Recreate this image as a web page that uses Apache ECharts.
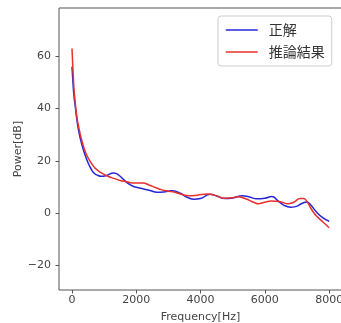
<!DOCTYPE html>
<html>
<head>
<meta charset="utf-8">
<script src="https://cdn.jsdelivr.net/npm/echarts@6/dist/echarts.min.js"></script>
<style>
  html, body { margin: 0; padding: 0; background: #fff; }
  #chart { width: 341px; height: 323px; }
</style>
</head>
<body>
<div id="chart"></div>
<script>
// ground truth spectrum (正解)
const trueFreq = [0, 30, 60, 100, 150, 200, 300, 400, 500, 600, 700, 800, 900, 1050, 1300, 1450, 1700, 1900, 2100, 2400, 2650, 2850, 3100, 3350, 3600, 3800, 4000, 4300, 4500, 4760, 5000, 5300, 5500, 5750, 6000, 6220, 6400, 6600, 6800, 6950, 7150, 7300, 7450, 7600, 7800, 8000]
const truePower = [56, 50, 45, 41, 36, 32, 26.5, 22.5, 19.3, 16.8, 15.2, 14.5, 14.1, 14.3, 15.4, 14.6, 11.8, 10.3, 9.6, 8.8, 8.0, 8.1, 8.6, 7.7, 6.0, 5.3, 5.6, 7.2, 6.6, 5.6, 5.8, 6.7, 6.3, 5.5, 5.7, 6.4, 4.8, 3.0, 2.3, 2.5, 3.7, 4.3, 2.8, 0.5, -1.7, -3.1]

// estimated spectrum (推論結果)
const predFreq = [0, 30, 60, 100, 150, 200, 300, 400, 500, 600, 700, 800, 900, 1100, 1300, 1500, 1700, 1900, 2200, 2400, 2600, 2800, 3000, 3200, 3400, 3650, 3900, 4200, 4450, 4750, 5000, 5150, 5400, 5650, 5800, 6000, 6200, 6450, 6700, 6900, 7100, 7200, 7300, 7450, 7600, 7800, 8000]
const predPower = [63, 55, 48, 42.5, 37, 33.5, 28, 24, 21.2, 19.2, 17.5, 16.4, 15.5, 14.2, 13.3, 12.5, 12.0, 11.5, 11.5, 10.8, 9.8, 8.9, 8.4, 8.0, 7.2, 6.7, 6.9, 7.3, 6.8, 5.7, 5.9, 6.3, 5.5, 4.2, 3.6, 4.2, 4.7, 4.5, 3.6, 4.2, 5.6, 5.6, 4.6, 1.5, -1.0, -3.3, -5.6]

const xTicks = [0, 2000, 4000, 6000, 8000]
const yTicks = [-20, 0, 20, 40, 60]

const pairs = (xs, ys) => xs.map((x, i) => [x, ys[i]])
const fmt = v => (v < 0 ? '\u2212' + Math.abs(v) : String(v))

const chart = echarts.init(document.getElementById('chart'), null, { renderer: 'canvas' })

chart.setOption({
  animation: false,
  textStyle: { fontFamily: 'DejaVu Sans' },
  grid: {
    left: 59, right: -1, top: 8, bottom: 33,
    containLabel: false,
    outerBoundsMode: 'none',
    show: true, borderColor: '#555', borderWidth: 1,
  },
  legend: {
    orient: 'vertical',
    left: 218, top: 16,
    padding: [7, 7, 7, 7],
    itemWidth: 32, itemHeight: 14, itemGap: 8,
    borderColor: '#ccc', borderWidth: 1, borderRadius: 3,
    backgroundColor: 'rgba(255,255,255,0.8)',
    itemStyle: { opacity: 0 },
    lineStyle: { width: 1.5 },
    textStyle: { fontFamily: 'Noto Sans CJK JP', fontSize: 14, color: '#333', padding: [0, 0, 0, 6] },
    data: ['正解', '推論結果'],
  },
  xAxis: {
    type: 'value',
    min: -404, max: 8400,
    name: 'Frequency[Hz]',
    nameLocation: 'middle',
    nameGap: 22,
    nameTextStyle: { fontSize: 11, color: '#444' },
    axisLine: { show: false, onZero: false },
    axisTick: { show: true, length: 3.5, customValues: xTicks, lineStyle: { color: '#555' } },
    axisLabel: { customValues: xTicks, fontSize: 11, color: '#444', margin: 5, formatter: fmt },
    splitLine: { show: false },
  },
  yAxis: {
    type: 'value',
    min: -29.4, max: 78.5,
    name: 'Power[dB]',
    nameLocation: 'middle',
    nameGap: 35,
    nameMoveOverlap: false,
    nameTextStyle: { fontSize: 11, color: '#444' },
    axisLine: { show: false, onZero: false },
    axisTick: { show: true, length: 3.5, customValues: yTicks, lineStyle: { color: '#555' } },
    axisLabel: { customValues: yTicks, fontSize: 11, color: '#444', margin: 8, formatter: fmt },
    splitLine: { show: false },
  },
  series: [
    {
      name: '正解', type: 'line',
      data: pairs(trueFreq, truePower),
      symbol: 'none', smooth: 0.5,
      lineStyle: { width: 1.5, color: '#2626d9' },
      itemStyle: { color: '#2626d9' },
    },
    {
      name: '推論結果', type: 'line',
      data: pairs(predFreq, predPower),
      symbol: 'none', smooth: 0.5,
      lineStyle: { width: 1.5, color: '#e8302c' },
      itemStyle: { color: '#e8302c' },
    },
  ],
})
</script>
</body>
</html>
